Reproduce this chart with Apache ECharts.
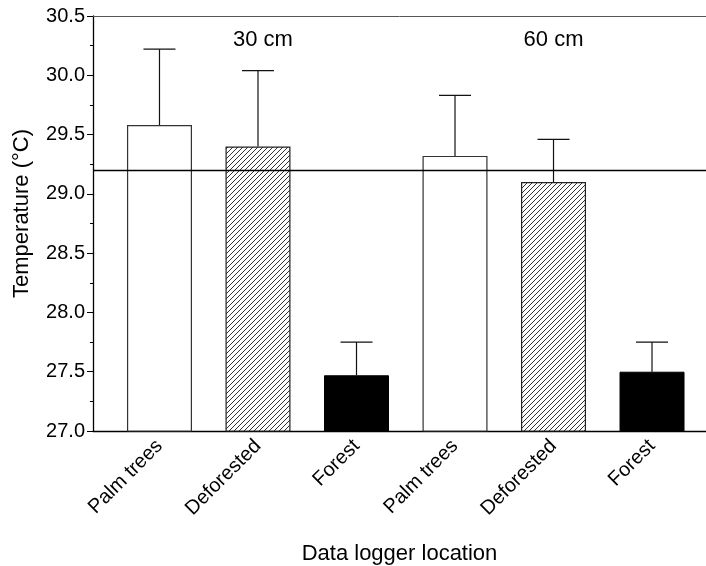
<!DOCTYPE html>
<html>
<head>
<meta charset="utf-8">
<script src="https://cdn.jsdelivr.net/npm/echarts@6/dist/echarts.min.js"></script>
<style>
  html, body { margin: 0; padding: 0; background: #fff; }
  #container { width: 706px; height: 566px; }
</style>
</head>
<body>
<div id="container"></div>
<script>
// data
const locations = ['Palm trees', 'Deforested', 'Forest', 'Palm trees', 'Deforested', 'Forest'];
const positions = [1, 2, 3, 4, 5, 6];
const meanTemp = [29.58, 29.40, 27.47, 29.32, 29.10, 27.50];
const errTop = [30.22, 30.04, 27.75, 29.83, 29.46, 27.75];
const fillKind = ['open', 'hatch', 'solid', 'open', 'hatch', 'solid'];
const depthLabels = ['30 cm', '60 cm'];
const depthPos = [2.05, 5.0];
const depthY = 30.30;
const refTemp = 29.2;

const FONT = '"Liberation Sans", Arial, sans-serif';

// diagonal hatch tile
function hatchTile() {
    const s = 5;
    const c = document.createElement('canvas');
    c.width = s; c.height = s;
    const ctx = c.getContext('2d');
    ctx.fillStyle = '#fff';
    ctx.fillRect(0, 0, s, s);
    ctx.strokeStyle = '#333';
    ctx.lineWidth = 1;
    ctx.beginPath();
    ctx.moveTo(0, s); ctx.lineTo(s, 0);
    ctx.moveTo(-1, 1); ctx.lineTo(1, -1);
    ctx.moveTo(s - 1, s + 1); ctx.lineTo(s + 1, s - 1);
    ctx.stroke();
    return c;
}
const hatch = { image: hatchTile(), repeat: 'repeat' };

const fills = {
    open: { color: '#fff', borderColor: '#333', borderWidth: 1.2 },
    hatch: { color: hatch, borderColor: '#222', borderWidth: 1.2 },
    solid: { color: '#000', borderColor: '#000', borderWidth: 1 }
};

const xMin = 0.325, xMax = 6.548;

const chart = echarts.init(document.getElementById('container'));

const option = {
    animation: false,
    backgroundColor: '#fff',
    textStyle: { fontFamily: FONT, color: '#000' },
    grid: { left: 93, right: 0, top: 16, bottom: 135, containLabel: false, outerBoundsMode: 'none' },
    xAxis: [
        {
            type: 'value',
            min: xMin,
            max: xMax,
            splitLine: { show: false },
            axisLine: { lineStyle: { color: '#000', width: 1.3 } },
            axisTick: { show: false },
            axisLabel: {
                customValues: positions,
                rotate: 45,
                margin: 12,
                fontSize: 20,
                fontFamily: FONT,
                color: '#000',
                formatter: v => locations[Math.round(v) - 1] || ''
            },
            name: 'Data logger location',
            nameLocation: 'middle',
            nameGap: 112,
            nameTextStyle: { fontSize: 22, fontFamily: FONT, color: '#000' }
        },
        {
            type: 'value',
            position: 'top',
            min: xMin,
            max: xMax,
            splitLine: { show: false },
            axisLine: { show: true, lineStyle: { color: '#555', width: 1 } },
            axisTick: { show: false },
            axisLabel: { show: false }
        }
    ],
    yAxis: {
        type: 'value',
        min: 27,
        max: 30.5,
        interval: 0.5,
        splitLine: { show: false },
        axisLine: { show: true, lineStyle: { color: '#000', width: 1.3 } },
        axisTick: { show: true, length: 6, lineStyle: { color: '#000' } },
        minorTick: { show: true, splitNumber: 2, length: 3, lineStyle: { color: '#000' } },
        axisLabel: {
            margin: 8,
            fontSize: 20,
            fontFamily: FONT,
            color: '#000',
            formatter: v => v.toFixed(1)
        },
        name: 'Temperature (°C)',
        nameLocation: 'middle',
        nameGap: 60,
        nameTextStyle: { fontSize: 22, fontFamily: FONT, color: '#000', padding: [0, 0, 0, 20] }
    },
    series: [
        {
            type: 'bar',
            barWidth: 65,
            data: positions.map((p, i) => ({
                value: [p, meanTemp[i]],
                itemStyle: fills[fillKind[i]]
            })),
            markLine: {
                silent: true,
                symbol: 'none',
                label: { show: false },
                lineStyle: { color: '#000', width: 1.3, type: 'solid' },
                data: [{ yAxis: refTemp }]
            }
        },
        {
            type: 'custom',
            data: positions.map((p, i) => [p, meanTemp[i], errTop[i]]),
            renderItem: (params, api) => {
                const lo = api.coord([api.value(0), api.value(1)]);
                const hi = api.coord([api.value(0), api.value(2)]);
                const half = 16;
                const style = { stroke: '#111', lineWidth: 1.2 };
                return {
                    type: 'group',
                    children: [
                        { type: 'line', shape: { x1: lo[0], y1: lo[1], x2: hi[0], y2: hi[1] }, style },
                        { type: 'line', shape: { x1: hi[0] - half, y1: hi[1], x2: hi[0] + half, y2: hi[1] }, style }
                    ]
                };
            }
        },
        {
            type: 'scatter',
            symbolSize: 0,
            itemStyle: { opacity: 1 },
            data: depthPos.map(p => [p, depthY]),
            label: {
                show: true,
                position: 'inside',
                fontSize: 22,
                fontFamily: FONT,
                color: '#000',
                opacity: 1,
                textBorderWidth: 0,
                formatter: p => depthLabels[p.dataIndex]
            }
        }
    ]
};

chart.setOption(option);
</script>
</body>
</html>
